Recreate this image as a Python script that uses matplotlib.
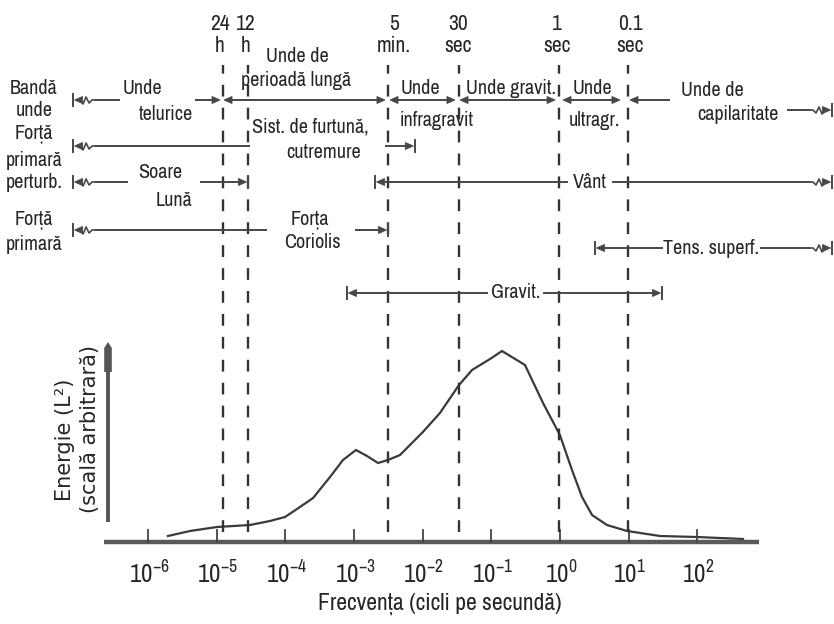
import matplotlib
matplotlib.use("Agg")
import matplotlib.pyplot as plt
from matplotlib.patches import Polygon
from matplotlib import font_manager as fm

# ---------------- data ----------------
freq_hz = [1.95e-6, 4.09e-6, 1.01e-5, 3.06e-5, 5.98e-5, 9.9e-5, 1.48e-4, 2.54e-4,
           4.48e-4, 6.92e-4, 1.07e-3, 1.55e-3, 2.24e-3, 3.13e-3, 4.69e-3, 1.01e-2,
           1.79e-2, 3.39e-2, 5.25e-2, 9.6e-2, 0.1435, 0.310, 0.568, 1.0, 1.50, 2.10,
           2.94, 4.85, 9.5, 28.7, 99, 465]
energy = [6, 11, 15, 17, 21, 25, 33, 44, 65, 82, 92, 86, 79, 82, 87, 110, 129, 157,
          172, 183, 191, 177, 139, 107, 72, 45, 27, 17, 11, 6, 5, 3]

tick_exponents = [-6, -5, -4, -3, -2, -1, 0, 1, 2]
period_labels = ["24\nh", "12\nh", "5\nmin.", "30\nsec", "1\nsec", "0.1\nsec"]
period_freq_hz = [1.24e-5, 2.86e-5, 3.13e-3, 3.39e-2, 0.97, 9.8]

# band arrows: row pixel y, list of (f_start, f_end, start cap, end cap)
band_rows = [
    (100, [(8.1e-8, 3.9e-7, "brk", None), (4.8e-6, 1.12e-5, None, "arr"),
           (1.28e-5, 2.83e-3, "arr", "arr"), (3.35e-3, 2.96e-2, "arr", "arr"),
           (3.51e-2, 0.85, "arr", "arr"), (1.11, 7.5, "arr", "arr"),
           (10.5, 40, "arr", None)]),
    (110, [(2030, 9200, None, "brk")]),
    (146, [(8.1e-8, 3.06e-5, "brk", None), (2.83e-3, 7.7e-3, None, "bar")]),
    (182, [(8.1e-8, 5.1e-7, "brk", None), (5.7e-6, 2.86e-5, None, "bar"),
           (2.03e-3, 1.31, "bar", None), (5.74, 9200, None, "brk")]),
    (230, [(8.1e-8, 5.4e-5, "brk", None), (1.035e-3, 3.13e-3, None, "bar")]),
    (248, [(3.24, 31.8, "bar", None), (822, 9200, None, "brk")]),
    (293, [(7.9e-4, 8.97e-2, "bar", None), (0.568, 30.7, None, "bar")]),
]

# band texts: (text, frequency of centre, pixel row)
band_texts = [
    ("Unde", 8.2e-7, 89), ("telurice", 1.83e-6, 114),
    ("Unde de", 1.48e-4, 57), ("perioadă lungă", 1.43e-4, 80),
    ("Unde", 9.2e-3, 89), ("infragravit", 1.62e-2, 120),
    ("Unde gravit.", 0.194, 89), ("Unde", 2.94, 89), ("ultragr.", 3.14, 120),
    ("Unde de", 164, 91), ("capilaritate", 393, 114),
    ("Sist. de furtună,", 2.29e-4, 127), ("cutremure", 3.66e-4, 153),
    ("Soare", 1.50e-6, 172), ("Lună", 2.39e-6, 201),
    ("Vânt", 2.74, 182), ("Forța", 2.29e-4, 220), ("Coriolis", 2.45e-4, 243),
    ("Tens. superf.", 159, 249), ("Gravit.", 0.230, 293),
]
left_labels = [("Bandă", 89), ("unde", 110), ("Forță", 135), ("primară", 160),
               ("perturb.", 183), ("Forță", 220), ("primară", 244)]

# ---------------- font choice: a narrow sans if one is installed ----------------
entries = fm.fontManager.ttflist
NAME, STRETCH, SIZE = "Liberation Sans", "normal", 12.5
for e in entries:
    if "Narrow" in e.name or "Condensed" in e.name:
        NAME, STRETCH, SIZE = e.name, "normal", 14.5
        break
else:
    for e in entries:
        if e.name == "DejaVu Sans" and str(e.stretch) in ("condensed", "semi-condensed"):
            NAME, STRETCH, SIZE = "DejaVu Sans", "condensed", 13
            break
FAM = [NAME, "DejaVu Sans"]

# ---------------- layout ----------------
W, H = 834, 624
LOG_MIN = -6 - 148 / 68.65
LOG_MAX = LOG_MIN + W / 68.65
PPD = W / (LOG_MAX - LOG_MIN)
Y0 = 542  # pixel row of zero energy


def E(ypx):
    return Y0 - ypx


def sh(f, dx):
    return f * 10 ** (dx / PPD)


INK = "#262626"
LINE = "#474747"
plt.rcParams["lines.scale_dashes"] = False
plt.rcParams["mathtext.fontset"] = "custom"
plt.rcParams["mathtext.rm"] = NAME
plt.rcParams["mathtext.it"] = NAME
plt.rcParams["mathtext.bf"] = NAME

fig = plt.figure(figsize=(W / 100, H / 100), dpi=100, facecolor="white")
ax = fig.add_axes([0, 0, 1, 1])
ax.set_xscale("log")
ax.set_xlim(10 ** LOG_MIN, 10 ** LOG_MAX)
ax.set_ylim(Y0 - H, Y0)
ax.axis("off")

# spectrum curve
ax.plot(freq_hz, energy, color="#3a3a3a", lw=1.6, solid_joinstyle="miter")

# frequency axis line and ticks
ax.plot([sh(1e-6, -44), sh(1e2, 62)], [0, 0], color="#5a5a5a", lw=3.2,
        solid_capstyle="butt")
for e in tick_exponents:
    ax.plot([10.0 ** e, 10.0 ** e], [0, 12], color="#444444", lw=1.3)
    ax.text(sh(10.0 ** e, 1), -42, r"$10^{%d}$" % e, ha="center", va="baseline",
            fontsize=SIZE + 3.5, color=INK)
ax.text(10 ** -1.747, -62, "Frecvența (cicli pe secundă)", ha="center",
        va="center", fontsize=SIZE + 2.5, family=FAM, fontstretch=STRETCH, color=INK)

# energy arrow and label
xa = sh(1e-6, -40)
ax.plot([xa, xa], [20, 190], color="#555555", lw=2.8, solid_capstyle="butt")
ax.add_patch(Polygon([(sh(xa, -3.8), 170), (sh(xa, 3.8), 170), (sh(xa, 3.8), 194),
                      (xa, 200), (sh(xa, -3.8), 194)], closed=True,
                     facecolor="#555555", edgecolor="none"))
ax.text(sh(1e-6, -83), E(440), "Energie (L²)", rotation=90, ha="center",
        va="center", fontsize=15, family="DejaVu Sans", fontstretch="normal",
        color=INK)
ax.text(sh(1e-6, -58), E(429), "(scală arbitrară)", rotation=90, ha="center",
        va="center", fontsize=15, family="DejaVu Sans", fontstretch="normal",
        color=INK)

# dashed period lines and their labels
lab_dx = [-3, -2, 6, -1, -2, 2]
for f, lab, dx in zip(period_freq_hz, period_labels, lab_dx):
    ax.plot([f, f], [E(532), E(65)], color="#333333", lw=1.7,
            dashes=(8.5, 8.0))
    ax.text(sh(f, dx), E(35), lab, ha="center", va="center", fontsize=SIZE + 1,
            family=FAM, fontstretch=STRETCH, color=INK, linespacing=1.1)


def tri(f, y, side):
    pts = [(f, y), (sh(f, -side * 8), y + 3.5), (sh(f, -side * 8), y - 3.5)]
    ax.add_patch(Polygon(pts, closed=True, facecolor=LINE, edgecolor=LINE, lw=0.6))


def bar(f, y):
    ax.plot([f, f], [y - 6, y + 6], color=LINE, lw=1.4)


def draw_cap(f, y, kind, side):
    """side=-1: left end, +1: right end. Returns inset in pixels."""
    if kind is None:
        return 0
    if kind == "arr":
        tri(f, y, side)
        return 4
    if kind == "bar":
        bar(f, y)
        tri(sh(f, -side * 1.5), y, side)
        return 4
    if kind == "brk":
        bar(f, y)
        tri(sh(f, -side * 1.5), y, side)
        zz = [(7, 0), (10, -4), (13, 3), (16, -3), (19, 0), (22, 0)]
        ax.plot([sh(f, -side * dx) for dx, _ in zz], [y + dy for _, dy in zz],
                color=LINE, lw=1.2)
        return 22
    return 0


for ypx, segs in band_rows:
    y = E(ypx)
    for f0, f1, c0, c1 in segs:
        i0 = draw_cap(f0, y, c0, -1)
        i1 = draw_cap(f1, y, c1, +1)
        ax.plot([sh(f0, i0), sh(f1, -i1)], [y, y], color=LINE, lw=1.4,
                solid_capstyle="butt")

for txt, f, ypx in band_texts:
    ax.text(f, E(ypx), txt, ha="center", va="center", fontsize=SIZE,
            family=FAM, fontstretch=STRETCH, color=INK)

for txt, ypx in left_labels:
    ax.text(sh(1e-6, -114), E(ypx), txt, ha="center", va="center", fontsize=SIZE,
            family=FAM, fontstretch=STRETCH, color=INK)

fig.savefig("out.png", dpi=100, facecolor="white")
